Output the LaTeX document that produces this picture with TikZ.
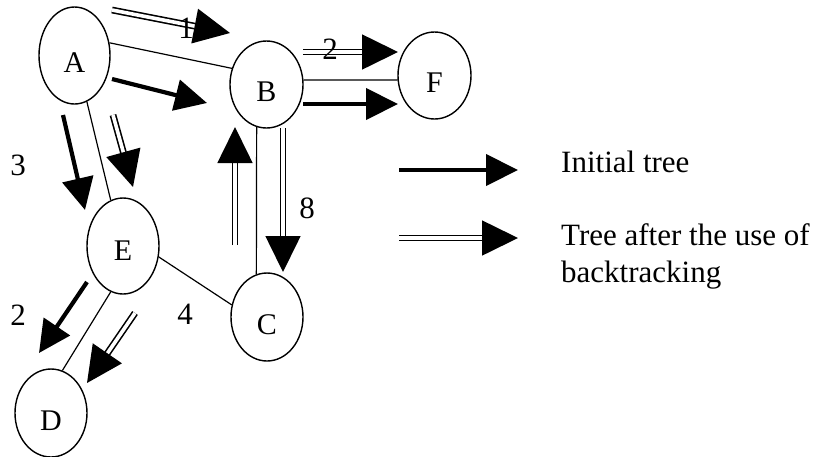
\documentclass[tikz,border=0pt]{standalone}
\usepackage{fontspec}
\setmainfont{Liberation Serif}
\usetikzlibrary{shapes.geometric,arrows.meta}
\begin{document}
\begin{tikzpicture}[x=1pt,y=-1pt,
  vert/.style={ellipse, draw, line width=1.4pt, inner sep=0pt,
    font=\fontsize{30}{32}\selectfont, text height=34pt, text depth=0pt},
  edge/.style={line width=1.2pt},
  initarr/.style={line width=4.2pt, -{Triangle[length=32pt,width=31pt]}},
  backarr/.style={double, double distance=3.6pt, line width=1.6pt,
    -{Triangle[length=36pt,width=35pt]}},
  num/.style={font=\fontsize{31}{34}\selectfont, inner sep=0pt},
  legtext/.style={font=\fontsize{31}{36}\selectfont, inner sep=0pt, anchor=base west}]
\useasboundingbox (0,0) rectangle (826,456);

% vertices
\node[vert, minimum width=71pt, minimum height=97pt] (A) at (74.5,55.5) {A};
\node[vert, minimum width=73pt, minimum height=87pt] (B) at (266.5,84.5) {B};
\node[vert, minimum width=73pt, minimum height=87pt] (F) at (434.5,75.5) {F};
\node[vert, minimum width=72pt, minimum height=96pt, text height=29pt] (E) at (123,246) {E};
\node[vert, minimum width=72pt, minimum height=88pt] (C) at (267,317) {C};
\node[vert, minimum width=72pt, minimum height=88pt] (D) at (51,413) {D};

% graph edges
\draw[edge] (A.20) -- (B.155);
\draw[edge] (B.7) -- (F.187);
\draw[edge] (A.-75) -- (E.105);
\draw[edge] (B.257) -- (C.104);
\draw[edge] (E.-17) -- (C.161);
\draw[edge] (E.255) -- (D.75);

% arrow end points
\coordinate (ab1) at (112,79);  \coordinate (ab2) at (207,103);
\coordinate (bf1) at (303,104); \coordinate (bf2) at (398,104);
\coordinate (ae1) at (63,115);  \coordinate (ae2) at (85,210);
\coordinate (ed1) at (87,282);  \coordinate (ed2) at (39,353);
\coordinate (li1) at (399,170); \coordinate (li2) at (518,170);

\coordinate (AB1) at (112,10);  \coordinate (AB2) at (230,33);
\coordinate (BF1) at (303,52);  \coordinate (BF2) at (398,52);
\coordinate (AE1) at (113,115); \coordinate (AE2) at (133,187);
\coordinate (BC1) at (283,128); \coordinate (BC2) at (283,272);
\coordinate (CB1) at (235,245); \coordinate (CB2) at (235,127);
\coordinate (ED1) at (135,313); \coordinate (ED2) at (87,383);
\coordinate (LB1) at (399,238); \coordinate (LB2) at (518,238);

% initial tree
\draw[initarr] (ab1) -- (ab2);
\draw[initarr] (bf1) -- (bf2);
\draw[initarr] (ae1) -- (ae2);
\draw[initarr] (ed1) -- (ed2);
\draw[initarr] (li1) -- (li2);

% tree after backtracking
\draw[backarr] (AB1) -- (AB2);
\draw[backarr] (BF1) -- (BF2);
\draw[backarr] (AE1) -- (AE2);
\draw[backarr] (BC1) -- (BC2);
\draw[backarr] (CB1) -- (CB2);
\draw[backarr] (ED1) -- (ED2);
\draw[backarr] (LB1) -- (LB2);

% weights
\node[num] (w1) at (186,28) {1};
\node[num] (w2) at (330,49) {2};
\node[num] (w3) at (18,165) {3};
\node[num] (w4) at (18,315) {2};
\node[num] (w5) at (185,314) {4};
\node[num] (w6) at (307,208) {8};

% legend
\node[legtext] (l1) at (561,172) {Initial tree};
\node[legtext] (l2) at (561,245) {Tree after the use of};
\node[legtext] (l3) at (561,282) {backtracking};
\end{tikzpicture}
\end{document}
